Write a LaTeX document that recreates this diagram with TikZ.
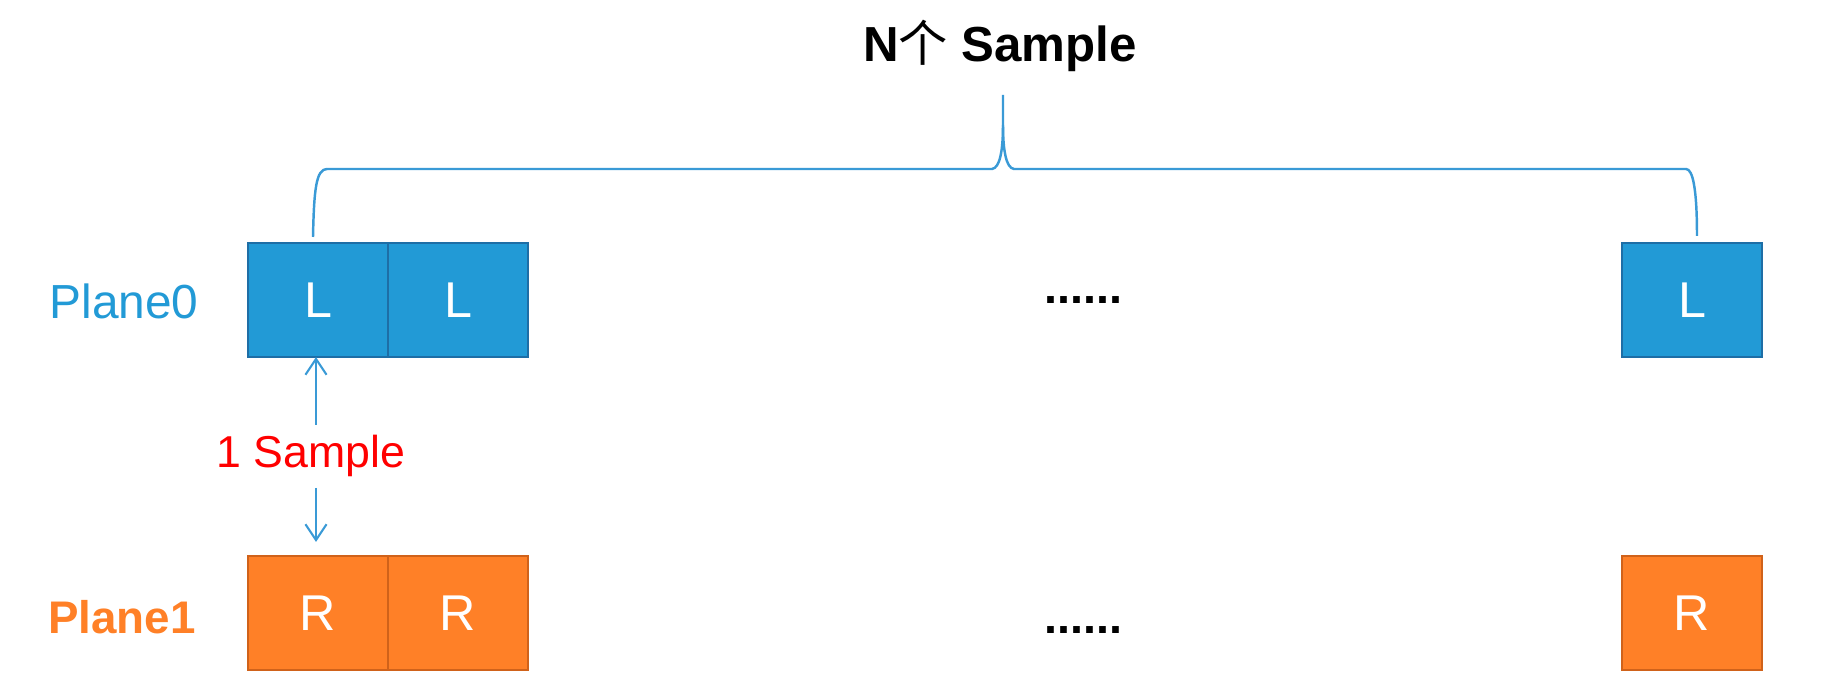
\documentclass[tikz,border=0pt]{standalone}
\usepackage{fontspec}
\setmainfont{Liberation Sans}
\newfontfamily\cjk{Noto Sans CJK SC}
\usepackage{tikz}
\usetikzlibrary{positioning}
\usetikzlibrary{arrows.meta}
\definecolor{planeblue}{HTML}{229AD6}
\definecolor{planeblueline}{HTML}{1E6EA6}
\definecolor{planeorange}{HTML}{FF8027}
\definecolor{planeorangeline}{HTML}{D0621A}
\definecolor{bracecol}{HTML}{3A9AD6}

\tikzset{
  lbox/.style={draw=planeblueline, fill=planeblue, line width=0.6pt,
    minimum width=1.4cm, minimum height=1.14cm, inner sep=0pt, outer sep=0pt,
    text=white, font=\fontsize{14.3}{16}\selectfont},
  rbox/.style={lbox, draw=planeorangeline, fill=planeorange},
  samparrow/.style={draw=bracecol, line width=0.6pt,
    -{Straight Barb[length=4.5pt,width=6pt]}}
}

\begin{document}
\begin{tikzpicture}[x=0.01cm,y=-0.01cm]
 % ================================================================
 % frame
 % ================================================================
	\useasboundingbox (0,0) rectangle (1847,686);

        % title
        \node (title) at (1000,46) {\fontsize{14}{16}\selectfont\bfseries N{\cjk\mdseries 个} Sample};
        % brace
        \draw[bracecol, line width=0.7pt]
          (313,237) .. controls (314,190) and (316,169) .. (327,169)
          -- (992,169) .. controls (1000,168) and (1003,150) .. (1003,125)
          -- (1003,95);
        \draw[bracecol, line width=0.7pt]
          (1003,125) .. controls (1003,150) and (1006,168) .. (1014,169)
          -- (1686,169) .. controls (1693,169) and (1697,190) .. (1697,236);

        % plane 0
        \node [text=planeblue, font=\fontsize{13.6}{14}\selectfont] (p0) at (124,301) {Plane0};
        \node [lbox] (l1) at (318,300) {L};
        \node [lbox, right=0pt of l1] (l2) {L};
        \node [lbox] (ln) at (1692,300) {L};
        \node [font=\fontsize{13.3}{14}\selectfont\bfseries] (d0) at (1083,300) {......};

        % plane 1
        \node [text=planeorange, font=\fontsize{13}{14}\selectfont\bfseries] (p1) at (122,617) {Plane1};
        \node [rbox] (r1) at (318,613) {R};
        \node [rbox, right=0pt of r1] (r2) {R};
        \node [rbox] (rn) at (1692,613) {R};
        \node [font=\fontsize{13.3}{14}\selectfont\bfseries] (d1) at (1083,630) {......};

        % one sample
        \node [text=red, font=\fontsize{12.7}{14}\selectfont] (one) at (311,456) {1 Sample};
        \coordinate (upstart) at (316,425);
        \coordinate (dnstart) at (316,488);
        \coordinate (dnend) at (316,542);
        \draw[samparrow] (upstart) -- (upstart |- l1.south);
        \draw[samparrow] (dnstart) -- (dnend);

\end{tikzpicture}
\end{document}
